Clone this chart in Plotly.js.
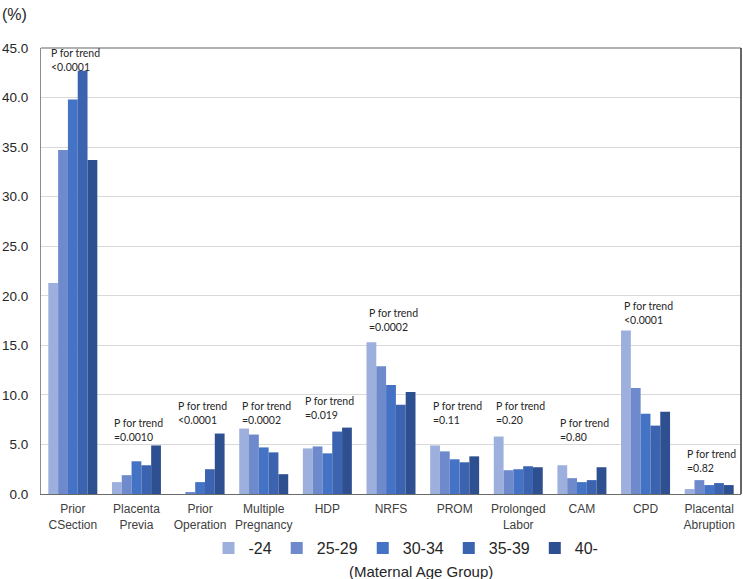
<!DOCTYPE html>
<html>
<head>
<meta charset="utf-8">
<script src="https://cdn.plot.ly/plotly-3.0.1.min.js"></script>
<style>html,body{margin:0;padding:0;background:#fff;}#chart{width:743px;height:579px;}</style>
</head>
<body>
<div id="chart"></div>
<script>
// ---- data ----
const categories = ["Prior<br>CSection", "Placenta<br>Previa", "Prior<br>Operation", "Multiple<br>Pregnancy", "HDP", "NRFS", "PROM", "Prolonged<br>Labor", "CAM", "CPD", "Placental<br>Abruption"];
const ageGroups = ["-24", "25-29", "30-34", "35-39", "40-"];
const age24    = [21.3, 1.2, 0.0, 6.6, 4.6, 15.3, 4.9, 5.8, 2.9, 16.5, 0.5];
const age25_29 = [34.7, 1.9, 0.2, 6.0, 4.8, 12.9, 4.3, 2.4, 1.6, 10.7, 1.4];
const age30_34 = [39.8, 3.3, 1.2, 4.7, 4.1, 11.0, 3.5, 2.5, 1.2, 8.1, 0.9];
const age35_39 = [42.7, 2.9, 2.5, 4.2, 6.3, 9.0, 3.2, 2.8, 1.4, 6.9, 1.1];
const age40    = [33.7, 4.9, 6.1, 2.0, 6.7, 10.3, 3.8, 2.7, 2.7, 8.3, 0.9];
const pTrend = ["&lt;0.0001", "=0.0010", "&lt;0.0001", "=0.0002", "=0.019", "=0.0002", "=0.11", "=0.20", "=0.80", "&lt;0.0001", "=0.82"];
const yTicks = [0, 5, 10, 15, 20, 25, 30, 35, 40, 45];

// ---- layout / style ----
const seriesValues = [age24, age25_29, age30_34, age35_39, age40];
const colors = ["#9DAFDC", "#6E8ACD", "#4472C4", "#3B63B0", "#2F5090"];
// vertical placement (data units) of the first line of each p-value label
const labelY = [44.5, 7.16, 8.88, 8.88, 9.35, 18.29, 8.88, 8.88, 7.16, 18.97, 4.07];

const traces = seriesValues.map((vals, i) => ({
  type: 'bar',
  name: ageGroups[i],
  x: categories,
  y: vals,
  marker: {color: colors[i], line: {width: 0}},
  hoverinfo: 'x+y+name'
}));

const annotations = categories.map((c, i) => ({
  x: c, y: labelY[i], xref: 'x', yref: 'y',
  text: 'P for trend<br>' + pTrend[i],
  showarrow: false, xanchor: 'left', yanchor: 'top', align: 'left',
  xshift: -24, yshift: 8,
  font: {family: 'Lato, "Open Sans", sans-serif', size: 10.5, color: '#262626'}
}));
annotations.push({
  xref: 'paper', yref: 'paper', x: -41/700, y: 1 + 33/446, xanchor: 'left', yanchor: 'middle',
  text: '(%)', showarrow: false,
  font: {family: '"Liberation Sans", Arial, sans-serif', size: 16, color: '#262626'}
});
annotations.push({
  xref: 'paper', yref: 'paper', x: (421 - 41)/700, y: -(571 - 494)/446, xanchor: 'center', yanchor: 'middle',
  text: '(Maternal Age Group)', showarrow: false,
  font: {family: '"Liberation Sans", Arial, sans-serif', size: 15, color: '#262626'}
});

const layout = {
  width: 743, height: 579,
  margin: {l: 41, r: 2, t: 48, b: 85, pad: 0},
  paper_bgcolor: '#ffffff', plot_bgcolor: '#ffffff',
  barmode: 'group', bargap: 0.23, bargroupgap: 0,
  font: {family: '"Liberation Sans", Arial, sans-serif', color: '#404040'},
  xaxis: {
    type: 'category', showgrid: false, showline: true, linecolor: '#6b6b6b', linewidth: 1,
    ticks: '', ticklabelstandoff: 4, tickfont: {size: 12, color: '#404040'}, zeroline: false, fixedrange: true
  },
  yaxis: {
    range: [0, 45], tickvals: yTicks, tickformat: '.1f', showgrid: true, gridcolor: '#d9d9d9', gridwidth: 1,
    showline: true, linecolor: '#8c8c8c', linewidth: 1, zeroline: false, ticks: '',
    ticklabelstandoff: 9, tickfont: {size: 13.5, color: '#262626'}, fixedrange: true
  },
  showlegend: true,
  legend: {
    orientation: 'h', x: (406 - 41)/700, xanchor: 'center', y: -(531 - 494)/446, yanchor: 'top',
    font: {size: 16, color: '#262626'}, bgcolor: 'rgba(0,0,0,0)', traceorder: 'normal'
  },
  shapes: [
    {type: 'line', xref: 'paper', yref: 'paper', x0: 0, x1: 1, y0: 1, y1: 1, line: {color: '#999999', width: 1.5}},
    {type: 'line', xref: 'paper', yref: 'paper', x0: 1, x1: 1, y0: 0, y1: 1, line: {color: '#333333', width: 1.5}}
  ],
  annotations: annotations
};

Plotly.newPlot('chart', traces, layout, {displayModeBar: false, staticPlot: true});
</script>
</body>
</html>
